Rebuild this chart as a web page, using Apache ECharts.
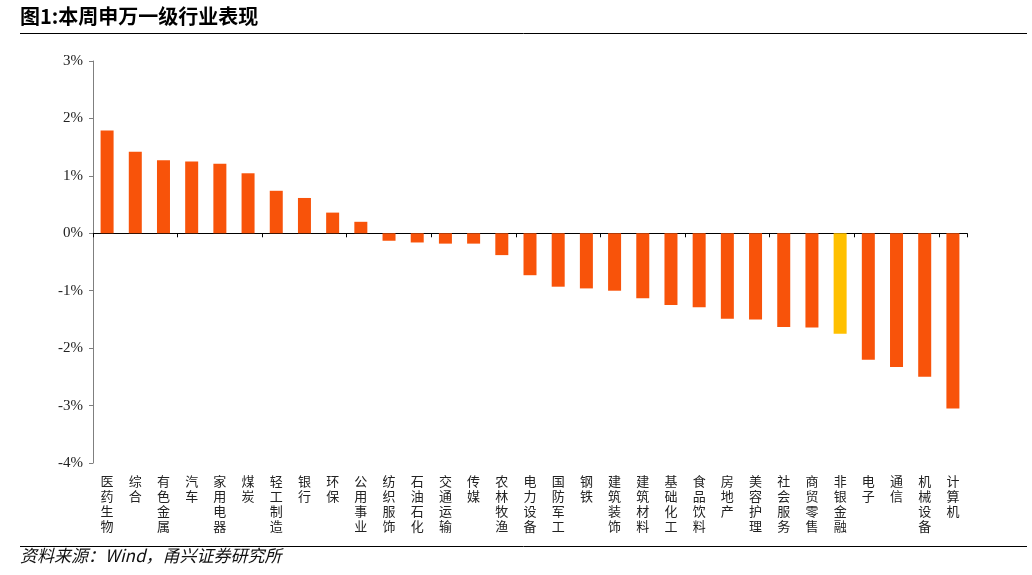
<!DOCTYPE html>
<html>
<head>
<meta charset="utf-8">
<script src="https://cdn.jsdelivr.net/npm/echarts@6/dist/echarts.min.js"></script>
<style>
html,body{margin:0;padding:0;background:#fff;}
#chart{width:1032px;height:575px;}
</style>
</head>
<body>
<div id="chart"></div>
<script>
const categories = ['医药生物','综合','有色金属','汽车','家用电器','煤炭','轻工制造','银行','环保','公用事业','纺织服饰','石油石化','交通运输','传媒','农林牧渔','电力设备','国防军工','钢铁','建筑装饰','建筑材料','基础化工','食品饮料','房地产','美容护理','社会服务','商贸零售','非银金融','电子','通信','机械设备','计算机'];
const values = [1.79,1.42,1.27,1.25,1.21,1.045,0.74,0.615,0.36,0.20,-0.13,-0.16,-0.18,-0.18,-0.38,-0.73,-0.93,-0.96,-1.00,-1.13,-1.25,-1.29,-1.49,-1.50,-1.63,-1.64,-1.75,-2.20,-2.33,-2.50,-3.05];
const highlight = ['非银金融'];
const yTicks = [-4,-3,-2,-1,0,1,2,3];

const ORANGE = '#F8530A';
const YELLOW = '#FFC000';
const chart = echarts.init(document.getElementById('chart'));
chart.setOption({
  animation: false,
  backgroundColor: '#fff',
  grid: {left: 93, right: 65, top: 61, bottom: 112},
  graphic: [
    {type:'text', left: 20, top: 6, style:{text:'图1:本周申万一级行业表现', font:'bold 20px "Noto Sans CJK SC"', fill:'#000'}},
    {type:'line', shape:{x1:20,y1:33.5,x2:1027,y2:33.5}, style:{stroke:'#000', lineWidth:1}},
    {type:'line', shape:{x1:20,y1:546.5,x2:1027,y2:546.5}, style:{stroke:'#000', lineWidth:1}},
    {type:'text', left: 20, top: 547, style:{text:'资料来源：Wind，甬兴证券研究所', font:'italic 17px "Noto Sans CJK SC"', fill:'#111'}}
  ],
  xAxis: [
    {
      type: 'category', data: categories,
      axisLine: {onZero: true, lineStyle: {color: '#000', width: 1}},
      axisTick: {show: true, length: 4, inside: false, lineStyle:{color:'#000'}},
      axisLabel: {show: false}
    },
    {
      type: 'category', data: categories, position: 'bottom',
      axisLine: {show: false, onZero: false}, axisTick: {show: false},
      axisLabel: {
        margin: 11, interval: 0, color: '#222',
        fontFamily: '"Noto Sans CJK SC"', fontSize: 13, lineHeight: 15,
        formatter: v => v.split('').join('\n'),
        verticalAlign: 'top'
      }
    }
  ],
  yAxis: {
    type: 'value', min: yTicks[0], max: yTicks[yTicks.length-1], interval: 1,
    axisLine: {show: true, lineStyle: {color: '#7f7f7f'}},
    axisTick: {show: true, length: 4, lineStyle: {color: '#7f7f7f'}},
    splitLine: {show: false},
    axisLabel: {margin: 10, color: '#222', fontFamily: '"Liberation Serif"', fontSize: 15, formatter: v => v + '%'}
  },
  series: [{
    type: 'bar', xAxisIndex: 0, barWidth: 13,
    data: values.map((v,i) => ({value: v, itemStyle: {color: highlight.includes(categories[i]) ? YELLOW : ORANGE}}))
  }]
});
</script>
</body>
</html>
